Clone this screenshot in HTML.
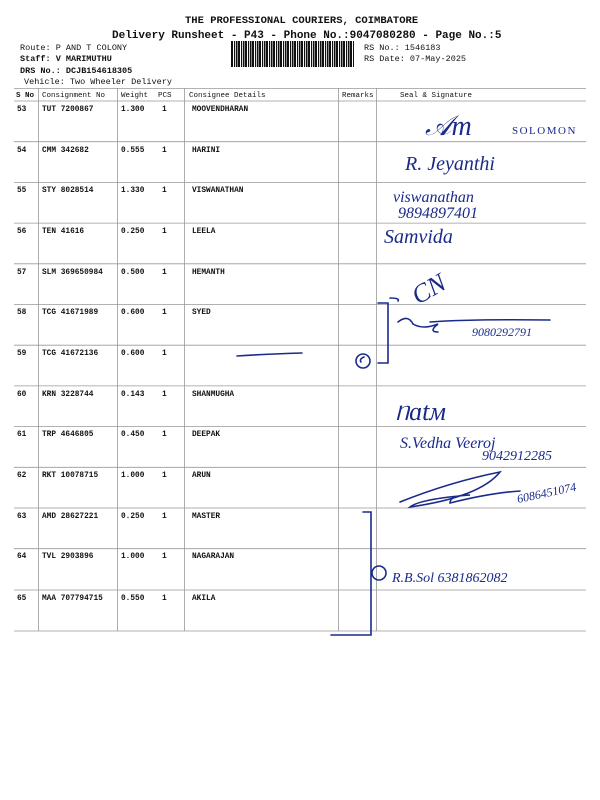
<!DOCTYPE html><html><head><meta charset="utf-8"><style>
html,body{margin:0;padding:0;background:#fff}
svg{display:block}
.m{font-family:"Liberation Mono","DejaVu Sans Mono",monospace}
.b{font-weight:bold}
.h{font-family:"Liberation Serif",serif;font-style:italic;fill:#1a2a8a}
</style></head><body>
<svg width="600" height="800" viewBox="0 0 600 800" xmlns="http://www.w3.org/2000/svg">
<rect width="600" height="800" fill="#fff"/>
<g class="m b" fill="#111">
<text x="185" y="23" font-size="10.5">THE PROFESSIONAL COURIERS, COIMBATORE</text>
<text x="112" y="38" font-size="11">Delivery Runsheet - P43 - Phone No.:9047080280 - Page No.:5</text>
</g>
<g class="m" fill="#111" font-size="8.5">
<text x="20" y="50">Route: P AND T COLONY</text>
<text x="20" y="61" font-weight="bold">Staff: V MARIMUTHU</text>
<text x="20" y="73" font-weight="bold">DRS No.: DCJB154618305</text>
<text x="24" y="84">Vehicle: Two Wheeler Delivery</text>
<text x="364" y="50">RS No.: 1546183</text>
<text x="364" y="61">RS Date: 07-May-2025</text>
</g>
<defs><pattern id="bp" width="7" height="26" patternUnits="userSpaceOnUse">
<rect x="0" width="2" height="26" fill="#111"/><rect x="3" width="1.2" height="26" fill="#111"/><rect x="5" width="1.5" height="26" fill="#111"/></pattern></defs>
<rect x="231" y="41" width="123" height="26" fill="url(#bp)"/>
<g stroke="#999" stroke-width="0.8" fill="none">
<line x1="14" y1="88.5" x2="586" y2="88.5"/>
<line x1="14" y1="101" x2="586" y2="101"/>
<line x1="14" y1="141.7" x2="586" y2="141.7"/>
<line x1="14" y1="182.4" x2="586" y2="182.4"/>
<line x1="14" y1="223.1" x2="586" y2="223.1"/>
<line x1="14" y1="263.8" x2="586" y2="263.8"/>
<line x1="14" y1="304.5" x2="586" y2="304.5"/>
<line x1="14" y1="345.2" x2="586" y2="345.2"/>
<line x1="14" y1="385.9" x2="586" y2="385.9"/>
<line x1="14" y1="426.6" x2="586" y2="426.6"/>
<line x1="14" y1="467.3" x2="586" y2="467.3"/>
<line x1="14" y1="508" x2="586" y2="508"/>
<line x1="14" y1="548.7" x2="586" y2="548.7"/>
<line x1="14" y1="590" x2="586" y2="590"/>
<line x1="14" y1="631" x2="586" y2="631"/>
<line x1="38.5" y1="88" x2="38.5" y2="631"/>
<line x1="117.5" y1="88" x2="117.5" y2="631"/>
<line x1="184.5" y1="88" x2="184.5" y2="631"/>
<line x1="338.5" y1="88" x2="338.5" y2="631"/>
<line x1="376.5" y1="88" x2="376.5" y2="631"/>
</g>
<g class="m" fill="#111" font-size="7.5">
<text x="16" y="97" font-weight="bold">S No</text><text x="42" y="97">Consignment No</text><text x="121" y="97">Weight</text><text x="158" y="97">PCS</text><text x="189" y="97">Consignee Details</text><text x="342" y="97">Remarks</text><text x="400" y="97">Seal &amp; Signature</text>
</g>
<g class="m b" fill="#111" font-size="7.8">
<text x="17" y="111">53</text><text x="42" y="111">TUT 7200867</text><text x="121" y="111">1.300</text><text x="162" y="111">1</text><text x="192" y="111">MOOVENDHARAN</text>
<text x="17" y="152">54</text><text x="42" y="152">CMM 342682</text><text x="121" y="152">0.555</text><text x="162" y="152">1</text><text x="192" y="152">HARINI</text>
<text x="17" y="192">55</text><text x="42" y="192">STY 8028514</text><text x="121" y="192">1.330</text><text x="162" y="192">1</text><text x="192" y="192">VISWANATHAN</text>
<text x="17" y="233">56</text><text x="42" y="233">TEN 41616</text><text x="121" y="233">0.250</text><text x="162" y="233">1</text><text x="192" y="233">LEELA</text>
<text x="17" y="274">57</text><text x="42" y="274">SLM 369650984</text><text x="121" y="274">0.500</text><text x="162" y="274">1</text><text x="192" y="274">HEMANTH</text>
<text x="17" y="314">58</text><text x="42" y="314">TCG 41671989</text><text x="121" y="314">0.600</text><text x="162" y="314">1</text><text x="192" y="314">SYED</text>
<text x="17" y="355">59</text><text x="42" y="355">TCG 41672136</text><text x="121" y="355">0.600</text><text x="162" y="355">1</text>
<text x="17" y="396">60</text><text x="42" y="396">KRN 3228744</text><text x="121" y="396">0.143</text><text x="162" y="396">1</text><text x="192" y="396">SHANMUGHA</text>
<text x="17" y="436">61</text><text x="42" y="436">TRP 4646805</text><text x="121" y="436">0.450</text><text x="162" y="436">1</text><text x="192" y="436">DEEPAK</text>
<text x="17" y="477">62</text><text x="42" y="477">RKT 10078715</text><text x="121" y="477">1.000</text><text x="162" y="477">1</text><text x="192" y="477">ARUN</text>
<text x="17" y="518">63</text><text x="42" y="518">AMD 28627221</text><text x="121" y="518">0.250</text><text x="162" y="518">1</text><text x="192" y="518">MASTER</text>
<text x="17" y="558">64</text><text x="42" y="558">TVL 2903896</text><text x="121" y="558">1.000</text><text x="162" y="558">1</text><text x="192" y="558">NAGARAJAN</text>
<text x="17" y="600">65</text><text x="42" y="600">MAA 707794715</text><text x="121" y="600">0.550</text><text x="162" y="600">1</text><text x="192" y="600">AKILA</text>
</g>
<g class="h">
<text x="425" y="135" font-size="28">&#x1D49C;m</text>
<text x="512" y="134" font-size="11" font-style="normal" letter-spacing="1.5">SOLOMON</text>
<text x="405" y="170" font-size="20">R. Jeyanthi</text>
<text x="393" y="202" font-size="16">viswanathan</text>
<text x="398" y="218" font-size="16">9894897401</text>
<text x="384" y="243" font-size="20">Samvida</text>
<text x="418" y="305" font-size="26" transform="rotate(-30 418 305)">CN</text>
<text x="472" y="336" font-size="12">9080292791</text>
<text x="395" y="420" font-size="26">ᥒɑtᴍ</text>
<text x="400" y="448" font-size="16">S.Vedha Veeroj</text>
<text x="482" y="460" font-size="14">9042912285</text>
<text x="518" y="503" font-size="12" transform="rotate(-12 518 503)">6086451074</text>
<text x="392" y="582" font-size="14">R.B.Sol 6381862082</text>
</g>
<g stroke="#1a2a8a" stroke-width="1.6" fill="none" stroke-linecap="round">
<path d="M398 322 q10 -8 15 2 q10 6 25 0 q-10 8 0 8 M430 322 q40 -3 120 -2"/>
<path d="M378 303 h10 v60 h-10 M364 357 q-5 2 -3 5 M390 298 q10 0 8 3"/>
<circle cx="363" cy="361" r="7"/>
<path d="M237 356 q30 -2 65 -3"/>
<path d="M400 502 q50 -20 100 -30 q-20 25 -90 35 q10 -8 60 -12 q-20 0 -20 8 q40 -10 70 -12"/>
<path d="M363 512 h8 v75 M371 545 v90 h-40"/>
<circle cx="379" cy="573" r="7"/>
</g>
</svg>
</body></html>
